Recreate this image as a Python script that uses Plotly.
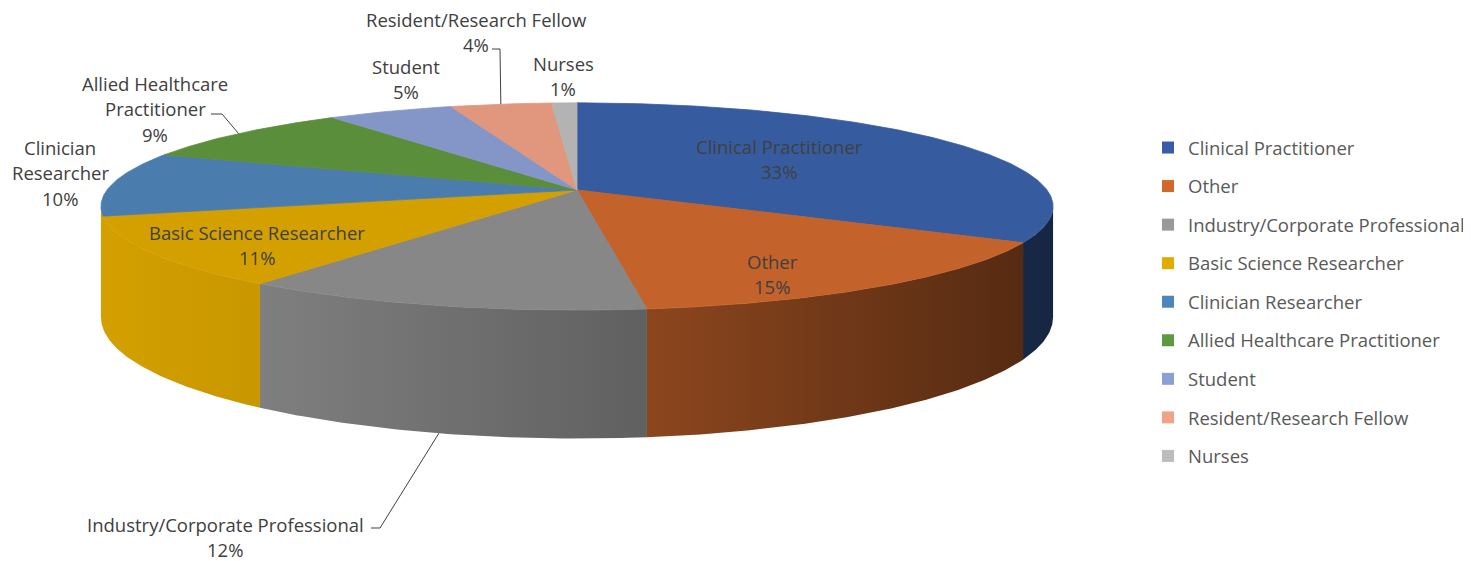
import numpy as np
import plotly.graph_objects as go

# ---------------- data ----------------
categories = ["Clinical Practitioner", "Other", "Industry/Corporate Professional",
              "Basic Science Researcher", "Clinician Researcher",
              "Allied Healthcare Practitioner", "Student",
              "Resident/Research Fellow", "Nurses"]
values = [33, 15, 12, 11, 10, 9, 5, 4, 1]

# ---------------- style ----------------
top_colors = ["#365C9F", "#C3622A", "#878787", "#D4A000", "#4A7DAD",
              "#5A8E3A", "#8496C8", "#E0977D", "#B3B3B3"]
legend_colors = ["#3A5CA8", "#D2692A", "#999999", "#E3AB00", "#4D85BD",
                 "#5B9A3E", "#8AA0D3", "#F0A486", "#BDBDBD"]
FONT = "Open Sans"
TXT = "#404040"
FS = 18.5
W, HGT = 1471, 561
OFF = 8  # page body margin: figure is drawn starting at (8, 8)

# pseudo-3D projection parameters (pixel space)
CX, CY, R, H, P, D = 577, 190, 470, 101, 0.159, 108


def proj(theta):
    u = np.sin(theta)
    v = -np.cos(theta)
    s = 1.0 / (1.0 - P * v)
    return CX + R * u * s, CY + H * v * s, D * s


def hex2rgb(h):
    h = h.lstrip("#")
    return [int(h[i:i + 2], 16) for i in (0, 2, 4)]


def shade(h, f):
    r, g, b = hex2rgb(h)
    return "rgb(%d,%d,%d)" % (r * f, g * f, b * f)


def light(x):
    t = min(max((x - 105) / 945.0, 0), 1)
    return 1 - 0.58 * t ** 1.3


total = float(sum(values))
fracs = np.array(values) / total
cum = np.concatenate([[0], np.cumsum(fracs)])
angles = cum * 2 * np.pi

# silhouette angles (extreme x)
th_r = np.arccos(-P)
th_l = 2 * np.pi - th_r
TINY = np.radians(6)

# visible wall ranges (tiny slivers at the silhouette are merged into neighbours)
walls = []
for i in range(len(categories)):
    a0, a1 = angles[i], angles[i + 1]
    w0, w1 = max(a0, th_r), min(a1, th_l)
    if w1 > w0:
        walls.append([i, w0, w1])
if len(walls) > 1 and walls[-1][2] - walls[-1][1] < TINY:
    walls[-2][2] = walls[-1][2]
    walls.pop()
if len(walls) > 1 and walls[0][2] - walls[0][1] < TINY:
    walls[1][1] = walls[0][1]
    walls.pop(0)

fig = go.Figure()

# side walls
for i, w0, w1 in walls:
    n = max(4, int(np.degrees(w1 - w0) * 2))
    th = np.linspace(w0, w1, n)
    x, y, d = proj(th)
    xs = np.concatenate([x, x[::-1], [x[0]]])
    ys = np.concatenate([y, (y + d)[::-1], [y[0]]])
    f0, f1 = light(xs.min()), light(xs.max())
    fig.add_trace(go.Scatter(
        x=xs, y=ys, mode="lines", fill="toself",
        line=dict(width=0), hoverinfo="skip", showlegend=False,
        fillgradient=dict(type="horizontal",
                          colorscale=[[0, shade(top_colors[i], f0)],
                                      [1, shade(top_colors[i], f1)]]),
    ))

# top faces
for i, c in enumerate(categories):
    a0, a1 = angles[i], angles[i + 1]
    n = max(4, int(np.degrees(a1 - a0) * 2))
    th = np.linspace(a0, a1, n)
    x, y, _ = proj(th)
    xs = np.concatenate([[CX], x, [CX]])
    ys = np.concatenate([[CY], y, [CY]])
    fig.add_trace(go.Scatter(
        x=xs, y=ys, mode="lines", fill="toself", fillcolor=top_colors[i],
        line=dict(width=0.8, color=top_colors[i]), hoverinfo="skip",
        showlegend=False,
    ))

# legend entries
for i, c in enumerate(categories):
    fig.add_trace(go.Scatter(
        x=[None], y=[None], mode="markers", name=c, legendgroup=c,
        marker=dict(symbol="square", size=12, color=legend_colors[i]),
    ))

# ---------------- labels ----------------
label_pos = {
    "Clinical Practitioner": (["Clinical Practitioner"], 779, 146),
    "Other": (["Other"], 772, 261),
    "Industry/Corporate Professional": (["Industry/Corporate Professional"], 225, 524),
    "Basic Science Researcher": (["Basic Science Researcher"], 257, 232),
    "Clinician Researcher": (["Clinician", "Researcher"], 60, 147),
    "Allied Healthcare Practitioner": (["Allied Healthcare", "Practitioner"], 155, 83),
    "Student": (["Student"], 406, 66),
    "Resident/Research Fellow": (["Resident/Research Fellow"], 476, 19),
    "Nurses": (["Nurses"], 563, 63),
}
GAP = 25.5
for i, c in enumerate(categories):
    lines, xc, y0 = label_pos[c]
    lines = lines + ["%d%%" % values[i]]
    for k, t in enumerate(lines):
        fig.add_annotation(x=xc, y=y0 + k * GAP, text=t, showarrow=False,
                           xref="x", yref="y", xanchor="center", yanchor="middle",
                           font=dict(family=FONT, size=FS, color=TXT))

# leader lines: (slice, start point near label, elbow, use wall bottom)
leaders = [
    ("Industry/Corporate Professional", (371, 528), (380, 528), True),
    ("Allied Healthcare Practitioner", (211, 114), (222, 114), False),
    ("Resident/Research Fellow", (492, 49), (500, 49), False),
]
for c, p0, p1, bottom in leaders:
    i = categories.index(c)
    mid = (angles[i] + angles[i + 1]) / 2
    ex, ey, ed = proj(mid)
    if bottom:
        ey = ey + ed
    fig.add_trace(go.Scatter(
        x=[p0[0], p1[0], ex], y=[p0[1], p1[1], ey], mode="lines",
        line=dict(color="#404040", width=1), hoverinfo="skip", showlegend=False,
    ))

FW, FH = W - OFF, HGT - OFF
fig.update_layout(
    width=FW, height=FH,
    margin=dict(l=0, r=0, t=0, b=0),
    paper_bgcolor="white", plot_bgcolor="white",
    xaxis=dict(range=[OFF, W], visible=False, fixedrange=True),
    yaxis=dict(range=[HGT, OFF], visible=False, fixedrange=True),
    showlegend=True,
    legend=dict(
        x=(1148 - OFF) / FW, y=1 - (129 - OFF) / FH, xanchor="left", yanchor="top",
        font=dict(family=FONT, size=FS, color="#595959"),
        tracegroupgap=11.5, itemwidth=30, bgcolor="rgba(0,0,0,0)",
    ),
)

fig.write_html("out.html")
